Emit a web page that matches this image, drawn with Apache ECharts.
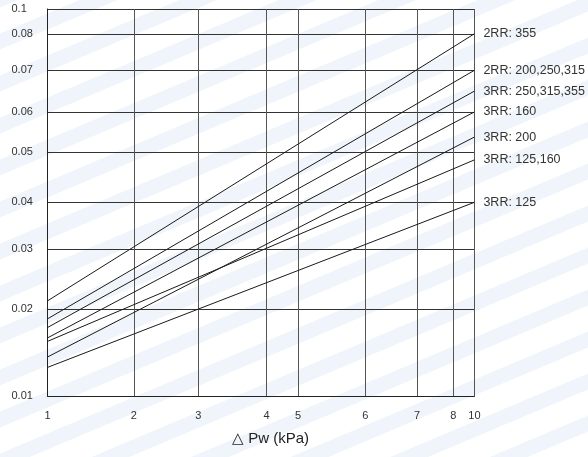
<!DOCTYPE html>
<html><head><meta charset="utf-8">
<script src="https://cdn.jsdelivr.net/npm/echarts@6/dist/echarts.min.js"></script>
<style>html,body{margin:0;padding:0;background:#fff}#c{width:588px;height:457px}</style>
</head><body><div id="c"></div>
<script>
// ---- data ----
const xTicks = [1, 2, 3, 4, 5, 6, 7, 8, 10];
const xTickLabels = ['1', '2', '3', '4', '5', '6', '7', '8', '10'];
const yTicks = [0.01, 0.02, 0.03, 0.04, 0.05, 0.06, 0.07, 0.08, 0.1];
const yTickLabels = ['0.01', '0.02', '0.03', '0.04', '0.05', '0.06', '0.07', '0.08', '0.1'];
const pressureEnds = [1, 10];
const seriesNames = ['2RR: 355', '2RR: 200,250,315', '3RR: 250,315,355', '3RR: 160', '3RR: 200', '3RR: 125,160', '3RR: 125'];
const valueAtP1 = [0.0214, 0.0189, 0.0179, 0.0167, 0.0145, 0.0163, 0.0133];
const valueAtP10 = [0.080, 0.070, 0.065, 0.060, 0.0537, 0.0484, 0.040];
const xTitle = '△ Pw (kPa)';

// ---- the chart's own non-uniform scale (relative placement of each tick) ----
const X_TICK_POS = [0, 0.2024, 0.3535, 0.5132, 0.587, 0.7442, 0.8656, 0.9508, 1];
const Y_TICK_POS = [0, 0.224, 0.380, 0.5005, 0.631, 0.734, 0.8416, 0.936, 1];
function warp(v, ticks, pos) {
  for (let i = 0; i < ticks.length - 1; i++) {
    if (v <= ticks[i + 1] || i === ticks.length - 2) {
      const f = (v - ticks[i]) / (ticks[i + 1] - ticks[i]);
      return pos[i] + f * (pos[i + 1] - pos[i]);
    }
  }
}
const wx = v => warp(v, xTicks, X_TICK_POS);
const wy = v => warp(v, yTicks, Y_TICK_POS);
function labelFor(val, pos, labels) {
  for (let i = 0; i < pos.length; i++) if (Math.abs(pos[i] - val) < 1e-6) return labels[i];
  return '';
}

const chart = echarts.init(document.getElementById('c'), null, {renderer: 'canvas'});
const font = 'Liberation Sans, Arial, sans-serif';
const series = seriesNames.map((name, i) => ({
  name: name,
  type: 'line',
  symbol: 'none',
  silent: true,
  lineStyle: {color: '#1a1a1a', width: 1},
  data: [[wx(pressureEnds[0]), wy(valueAtP1[i])], [wx(pressureEnds[1]), wy(valueAtP10[i])]],
  endLabel: {show: true, formatter: '{a}', distance: 9, color: '#333', fontSize: 12.5, fontFamily: font},
  z: 3
}));

// faint decorative watermark stripes in the background
const stripes = [];
for (let k = -8; k < 26; k++) {
  const y0 = k * 42;
  stripes.push({
    type: 'polygon', z: -10, silent: true,
    shape: {points: [[-20, y0], [620, y0 - 270], [620, y0 - 254], [-20, y0 + 16]]},
    style: {fill: '#f0f5fb'}
  });
}

chart.setOption({
  animation: false,
  backgroundColor: '#fff',
  grid: {left: 47.5, right: 113.6, top: 9, bottom: 61, show: false},
  xAxis: {
    type: 'value', min: 0, max: 1,
    axisLine: {show: true, onZero: false, lineStyle: {color: '#222', width: 1}},
    axisTick: {show: false, customValues: X_TICK_POS},
    axisLabel: {customValues: X_TICK_POS, margin: 14, color: '#333', fontSize: 11, fontFamily: font,
      formatter: v => labelFor(v, X_TICK_POS, xTickLabels)},
    splitLine: {show: true, lineStyle: {color: '#555', width: 1}}
  },
  yAxis: {
    type: 'value', min: 0, max: 1,
    axisLine: {show: true, onZero: false, lineStyle: {color: '#222', width: 1}},
    axisTick: {show: false, customValues: Y_TICK_POS},
    axisLabel: {customValues: Y_TICK_POS, margin: 36, align: 'left', color: '#333', fontSize: 11, fontFamily: font,
      formatter: v => labelFor(v, Y_TICK_POS, yTickLabels)},
    splitLine: {show: true, lineStyle: {color: '#333', width: 1}}
  },
  graphic: stripes.concat([{
    type: 'text', left: 232, top: 431, z: 10,
    style: {text: xTitle, fill: '#222', fontSize: 15, fontFamily: font}
  }]),
  series: series
});
</script></body></html>
